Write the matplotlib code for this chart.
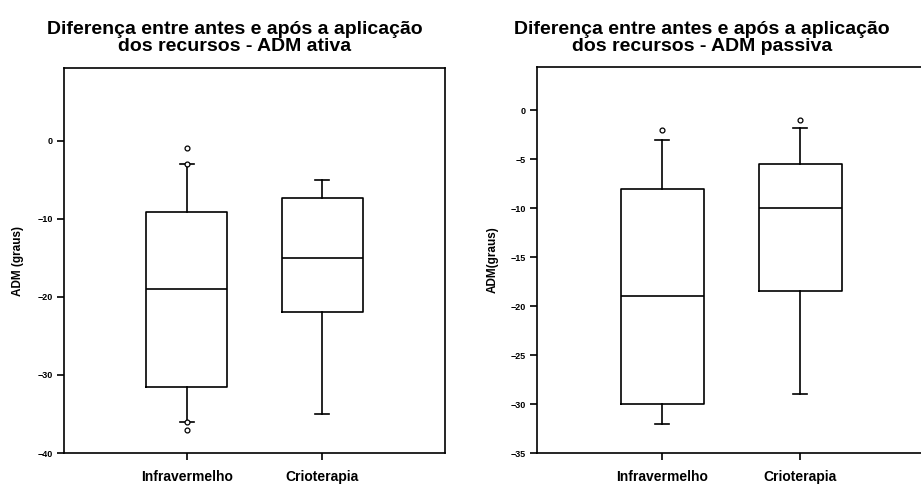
import numpy as np
import matplotlib
matplotlib.use("Agg")
import matplotlib.pyplot as plt

plt.rcParams['font.family'] = ['Liberation Sans', 'DejaVu Sans']
plt.rcParams['font.weight'] = 'bold'

grupos = ['Infravermelho', 'Crioterapia']

# ADM ativa: whiskers, quartis, mediana e outliers
ativa_med = [-19.0, -15.0]
ativa_q1 = [-31.5, -22.0]
ativa_q3 = [-9.2, -7.4]
ativa_wlo = [-36.0, -35.0]
ativa_whi = [-3.0, -5.0]
ativa_out = [[-1.0, -3.0, -36.0, -37.0], []]

# ADM passiva
passiva_med = [-19.0, -10.0]
passiva_q1 = [-30.0, -18.5]
passiva_q3 = [-8.0, -5.5]
passiva_wlo = [-32.0, -29.0]
passiva_whi = [-3.0, -1.8]
passiva_out = [[-2.0], [-1.0]]

fig = plt.figure(figsize=(9.21, 4.84), dpi=100)


def caixa(ax, med, q1, q3, wlo, whi, out):
    stats = []
    for i in range(len(grupos)):
        stats.append({'med': med[i], 'q1': q1[i], 'q3': q3[i],
                      'whislo': wlo[i], 'whishi': whi[i], 'fliers': out[i]})
    lp = dict(color='black', linewidth=1.2)
    ax.bxp(stats, positions=[1, 2], widths=0.6, capwidths=0.1,
           boxprops=lp, whiskerprops=lp, capprops=lp,
           medianprops=dict(color='black', linewidth=1.2),
           flierprops=dict(marker='o', markersize=3.5, markerfacecolor='white',
                           markeredgecolor='black', markeredgewidth=0.9))
    ax.set_xticks([1, 2])
    ax.set_xticklabels(grupos, fontsize=10, fontweight='bold')
    ax.set_xlim(0.09, 2.91)
    for s in ax.spines.values():
        s.set_linewidth(1.2)
    ax.tick_params(axis='both', direction='out', length=5, width=1.2, pad=7)
    ax.tick_params(axis='y', labelsize=6.5, pad=3)


ax1 = fig.add_axes([0.0695, 0.064, 0.4137, 0.7955])
caixa(ax1, ativa_med, ativa_q1, ativa_q3, ativa_wlo, ativa_whi, ativa_out)
ax1.set_ylim(-40, 9.3)
ax1.set_yticks([0, -10, -20, -30, -40])
ax1.set_ylabel('ADM (graus)', fontsize=8.5, fontweight='bold', labelpad=10)

ax2 = fig.add_axes([0.5827, 0.064, 0.4227, 0.7975])
caixa(ax2, passiva_med, passiva_q1, passiva_q3, passiva_wlo, passiva_whi, passiva_out)
ax2.set_ylim(-35, 4.4)
ax2.set_yticks([0, -5, -10, -15, -20, -25, -30, -35])
ax2.set_ylabel('ADM(graus)', fontsize=8.5, fontweight='bold', labelpad=8)

fig.text(0.255, 0.922, 'Diferença entre antes e após a aplicação\ndos recursos - ADM ativa',
         ha='center', va='center', fontsize=14, fontweight='bold', linespacing=1.0)
fig.text(0.762, 0.922, 'Diferença entre antes e após a aplicação\ndos recursos - ADM passiva',
         ha='center', va='center', fontsize=14, fontweight='bold', linespacing=1.0)

fig.savefig('out.png', dpi=100)
